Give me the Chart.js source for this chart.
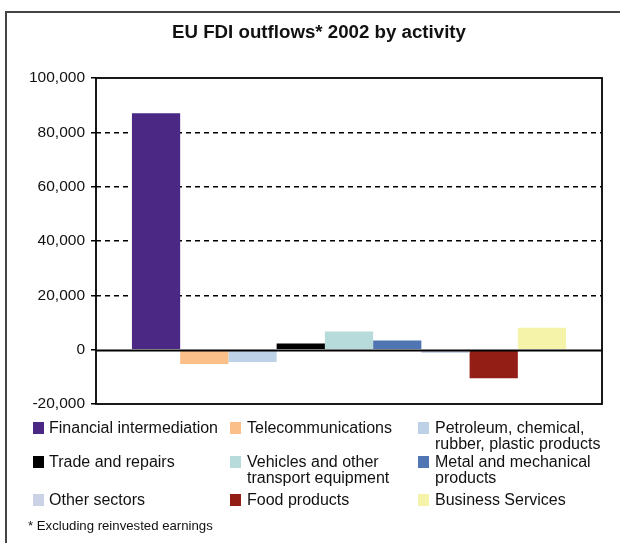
<!DOCTYPE html>
<html>
<head>
<meta charset="utf-8">
<script src="https://cdn.jsdelivr.net/npm/chart.js@4/dist/chart.umd.min.js"></script>
<style>
  html, body { margin: 0; padding: 0; background: #fff; }
  body { width: 620px; height: 543px; position: relative; overflow: hidden; font-family: "Liberation Sans", Arial, sans-serif; color: #111; }
  #frame { position: absolute; left: 5px; top: 11px; width: 700px; height: 700px; border-left: 2px solid #444; border-top: 2px solid #444; }
  #wrap { position: absolute; left: 0; top: 0; width: 620px; height: 543px; }
  #title { position: absolute; left: 119px; width: 400px; top: 20px; text-align: center; font-weight: bold; font-size: 18.7px; line-height: 24px; }
  .sw { position: absolute; width: 11px; height: 12px; }
  .lt { position: absolute; font-size: 16px; line-height: 16px; white-space: pre; }
  #note { position: absolute; left: 28px; top: 518px; font-size: 13.2px; line-height: 16px; }
</style>
</head>
<body>
<div id="frame"></div>
<div id="wrap"><canvas id="c" width="620" height="543"></canvas></div>
<div id="title">EU FDI outflows* 2002 by activity</div>
<div id="legend"></div>
<div id="note">* Excluding reinvested earnings</div>
<script>
const categories = [
  'Financial intermediation', 'Telecommunications', 'Petroleum, chemical, rubber, plastic products',
  'Trade and repairs', 'Vehicles and other transport equipment', 'Metal and mechanical products',
  'Other sectors', 'Food products', 'Business Services'
];
const legendLabels = [
  'Financial intermediation', 'Telecommunications', 'Petroleum, chemical,\nrubber, plastic products',
  'Trade and repairs', 'Vehicles and other\ntransport equipment', 'Metal and mechanical\nproducts',
  'Other sectors', 'Food products', 'Business Services'
];
const values = [87000, -5300, -4500, 2300, 6700, 3400, -1200, -10500, 8100];
const colors = ['#4A2884', '#FBBF8A', '#BDD1E7', '#000000', '#B7DADA', '#4F75B3', '#CCD2E5', '#921E16', '#F5F3A9'];
const yTicks = [-20000, 0, 20000, 40000, 60000, 80000, 100000];

const framePlugin = {
  id: 'framePlugin',
  afterDatasetsDraw(chart) {
    const { ctx, chartArea: a, scales: { y } } = chart;
    ctx.save();
    ctx.strokeStyle = '#000';
    ctx.lineWidth = 1.8;
    ctx.strokeRect(a.left, a.top, a.right - a.left, a.bottom - a.top);
    const y0 = Math.round(y.getPixelForValue(0)) + 0.5;
    ctx.beginPath();
    ctx.moveTo(a.left, y0);
    ctx.lineTo(a.right, y0);
    ctx.stroke();
    ctx.restore();
  }
};

const chart = new Chart(document.getElementById('c'), {
  type: 'bar',
  data: {
    labels: [''],
    datasets: categories.map((name, i) => ({
      label: name,
      data: [values[i]],
      backgroundColor: colors[i],
      borderWidth: 0,
      barPercentage: 1,
      categoryPercentage: 0.858
    }))
  },
  options: {
    responsive: false,
    animation: false,
    layout: { padding: { left: 0, right: 18, top: 78, bottom: 139 } },
    plugins: { legend: { display: false }, title: { display: false }, tooltip: { enabled: false } },
    scales: {
      x: { display: false },
      y: {
        min: -20000, max: 100000,
        afterBuildTicks(scale) { scale.ticks = yTicks.map(v => ({ value: v })); },
        afterFit(scale) { scale.width = 96; },
        ticks: {
          color: '#111',
          font: { family: '"Liberation Sans", Arial, sans-serif', size: 15.5 },
          padding: 6,
          callback: v => Number(v).toLocaleString('en-US')
        },
        grid: {
          drawOnChartArea: true,
          drawTicks: true,
          tickLength: 5,
          tickColor: '#000',
          tickWidth: 1.5,
          lineWidth: 1.5,
          color: ctx => (ctx.tick && (ctx.tick.value === 0 || ctx.tick.value === -20000 || ctx.tick.value === 100000)) ? 'rgba(0,0,0,0)' : '#000'
        },
        border: { display: false, dash: [5, 4] }
      }
    }
  },
  plugins: [framePlugin]
});

// HTML legend built from the chart datasets
const colX = [[33, 49], [230, 247], [418, 435]];
const rowTop = [420, 454, 492];
const leg = document.getElementById('legend');
chart.data.datasets.forEach((ds, i) => {
  const col = i % 3, row = Math.floor(i / 3);
  const sw = document.createElement('div');
  sw.className = 'sw';
  sw.style.left = colX[col][0] + 'px';
  sw.style.top = (rowTop[row] + 2) + 'px';
  sw.style.background = ds.backgroundColor;
  leg.appendChild(sw);
  const t = document.createElement('div');
  t.className = 'lt';
  t.style.left = colX[col][1] + 'px';
  t.style.top = rowTop[row] + 'px';
  t.textContent = legendLabels[i];
  leg.appendChild(t);
});
</script>
</body>
</html>
